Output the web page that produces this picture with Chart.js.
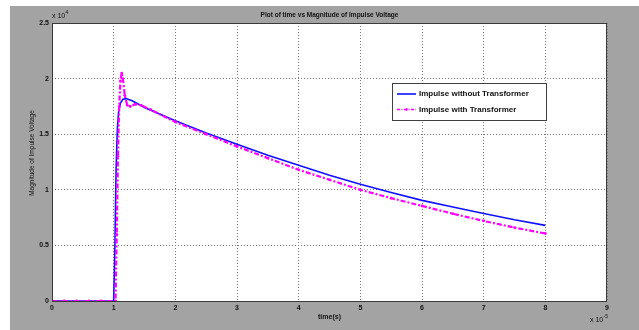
<!DOCTYPE html>
<html><head><meta charset="utf-8">
<script src="https://cdn.jsdelivr.net/npm/chart.js@4"></script>
<style>html,body{margin:0;padding:0;background:#fff;}canvas{display:block}</style>
</head><body>
<canvas id="c" width="639" height="330"></canvas>
<script>
const chartTitle = "Plot of time vs Magnitude of Impulse Voltage";
const xAxisTitle = "time(s)";
const yAxisTitle = "Magnitude of Impulse Voltage";
const xExponent = "-5";
const yExponent = "4";
const seriesNames = ["Impulse without Transformer", "Impulse with Transformer"];
const xTickValues = [0, 1, 2, 3, 4, 5, 6, 7, 8, 9];
const yTickValues = [0, 0.5, 1, 1.5, 2, 2.5];

// time in units of 1e-5 s, voltage in units of 1e4
const timeWithout = [0, 0.5, 1.0, 1.02, 1.04, 1.06, 1.08, 1.11, 1.15, 1.2, 1.3, 1.5, 2, 2.5, 3, 3.5, 4, 4.5, 5, 5.5, 6, 6.5, 7, 7.5, 8];
const voltWithout = [0, 0, 0, 0.5, 1.2, 1.55, 1.7, 1.78, 1.815, 1.82, 1.8, 1.74, 1.62, 1.51, 1.41, 1.31, 1.22, 1.13, 1.05, 0.975, 0.905, 0.845, 0.787, 0.73, 0.68];
const timeWith = [0, 0.2, 0.4, 0.6, 0.8, 1.03, 1.05, 1.07, 1.09, 1.11, 1.13, 1.15, 1.18, 1.22, 1.27, 1.35, 1.45, 1.6, 2, 2.5, 3, 3.5, 4, 4.5, 5, 5.5, 6, 6.5, 7, 7.5, 8];
const voltWith = [0, 0, 0, 0, 0, 0, 0.6, 1.3, 1.75, 1.98, 2.05, 2.0, 1.85, 1.76, 1.75, 1.77, 1.76, 1.72, 1.61, 1.5, 1.39, 1.285, 1.18, 1.09, 1.0, 0.925, 0.855, 0.785, 0.72, 0.66, 0.607];

const seriesColors = ["#1010ff", "#ff00ff"];

const toPts = (xs, ys) => xs.map((x, i) => ({x: x, y: ys[i]}));

const TXT = "#111";
const FONT = "'Liberation Sans', Arial, sans-serif";

const decor = {
  id: 'decor',
  beforeDraw(chart) {
    const ctx = chart.ctx, a = chart.chartArea;
    ctx.save();
    ctx.fillStyle = '#fff';
    ctx.fillRect(0, 0, chart.width, chart.height);
    ctx.fillStyle = '#a3a3a3';
    ctx.fillRect(10, 6, chart.width - 10, chart.height - 6);
    ctx.fillStyle = '#fff';
    ctx.fillRect(a.left, a.top, a.right - a.left, a.bottom - a.top);
    ctx.restore();
  },
  afterDraw(chart) {
    const ctx = chart.ctx, a = chart.chartArea;
    ctx.save();
    ctx.strokeStyle = '#3a3a3a';
    ctx.lineWidth = 1;
    ctx.strokeRect(a.left + 0.5, a.top + 0.5, a.right - a.left - 1, a.bottom - a.top);
    ctx.fillStyle = TXT;
    ctx.font = "bold 6.5px " + FONT;
    ctx.textAlign = 'center';
    ctx.textBaseline = 'middle';
    ctx.fillText(chartTitle, (a.left + a.right) / 2, 15);
    ctx.font = "bold 7px " + FONT;
    ctx.fillText(xAxisTitle, (a.left + a.right) / 2, 317);
    ctx.save();
    ctx.translate(32, 153);
    ctx.rotate(-Math.PI / 2);
    ctx.font = "6.5px " + FONT;
    ctx.fillText(yAxisTitle, 0, 0);
    ctx.restore();
    ctx.textAlign = 'left';
    ctx.font = "7px " + FONT;
    ctx.fillText("x 10", a.left, 16.5);
    ctx.font = "5px " + FONT;
    ctx.fillText(yExponent, a.left + 13.5, 13);
    ctx.font = "7px " + FONT;
    ctx.fillText("x 10", a.right - 17, 320.5);
    ctx.font = "5px " + FONT;
    ctx.fillText(xExponent, a.right - 3.5, 316.5);
    const lx = 392, ly = 83, lw = 154, lh = 37;
    ctx.fillStyle = '#fff';
    ctx.fillRect(lx, ly, lw, lh);
    ctx.strokeStyle = '#404040';
    ctx.strokeRect(lx + 0.5, ly + 0.5, lw, lh);
    const rows = [94, 109.5];
    chart.data.datasets.forEach((ds, i) => {
      const y = rows[i];
      ctx.strokeStyle = ds.borderColor;
      ctx.lineWidth = i === 0 ? 1.6 : 1.3;
      ctx.setLineDash(i === 0 ? [] : [3, 1.5, 1, 1.5]);
      ctx.beginPath();
      ctx.moveTo(397, y);
      ctx.lineTo(416, y);
      ctx.stroke();
      ctx.setLineDash([]);
      if (i === 1) {
        ctx.fillStyle = ds.borderColor;
        ctx.beginPath();
        ctx.arc(406.5, y, 1.3, 0, Math.PI * 2);
        ctx.fill();
      }
      ctx.fillStyle = TXT;
      ctx.font = "bold 8px " + FONT;
      ctx.textAlign = 'left';
      ctx.textBaseline = 'middle';
      ctx.fillText(ds.label, 419, y);
    });
    ctx.restore();
  }
};

new Chart(document.getElementById('c'), {
  type: 'line',
  data: {
    datasets: [
      {
        label: seriesNames[0],
        data: toPts(timeWithout, voltWithout),
        borderColor: seriesColors[0],
        backgroundColor: seriesColors[0],
        borderWidth: 1.6,
        pointRadius: 0,
        tension: 0,
        order: 2
      },
      {
        label: seriesNames[1],
        data: toPts(timeWith, voltWith),
        borderColor: seriesColors[1],
        backgroundColor: seriesColors[1],
        borderWidth: 2.2,
        borderDash: [5, 2, 2, 2],
        pointRadius: 1.4,
        pointBorderWidth: 0,
        tension: 0,
        order: 1
      }
    ]
  },
  options: {
    responsive: false,
    animation: false,
    devicePixelRatio: 1,
    layout: {padding: {left: 0, top: 23, right: 32, bottom: 0}},
    plugins: {legend: {display: false}, tooltip: {enabled: false}, title: {display: false}},
    scales: {
      x: {
        type: 'linear', min: 0, max: 9,
        afterBuildTicks: s => { s.ticks = xTickValues.map(v => ({value: v})); },
        afterFit: s => { s.height = 29; },
        grid: {color: '#777', drawTicks: false, lineWidth: 1},
        border: {display: false, dash: [1, 2]},
        ticks: {color: TXT, font: {family: FONT, size: 7, weight: 'bold'}, padding: 3, maxRotation: 0, callback: v => String(v)}
      },
      y: {
        type: 'linear', min: 0, max: 2.5,
        afterBuildTicks: s => { s.ticks = yTickValues.map(v => ({value: v})); },
        afterFit: s => { s.width = 52; },
        grid: {color: '#777', drawTicks: false, lineWidth: 1},
        border: {display: false, dash: [1, 2]},
        ticks: {color: TXT, font: {family: FONT, size: 7, weight: 'bold'}, padding: 3, callback: v => String(v)}
      }
    }
  },
  plugins: [decor]
});
</script>
</body></html>
